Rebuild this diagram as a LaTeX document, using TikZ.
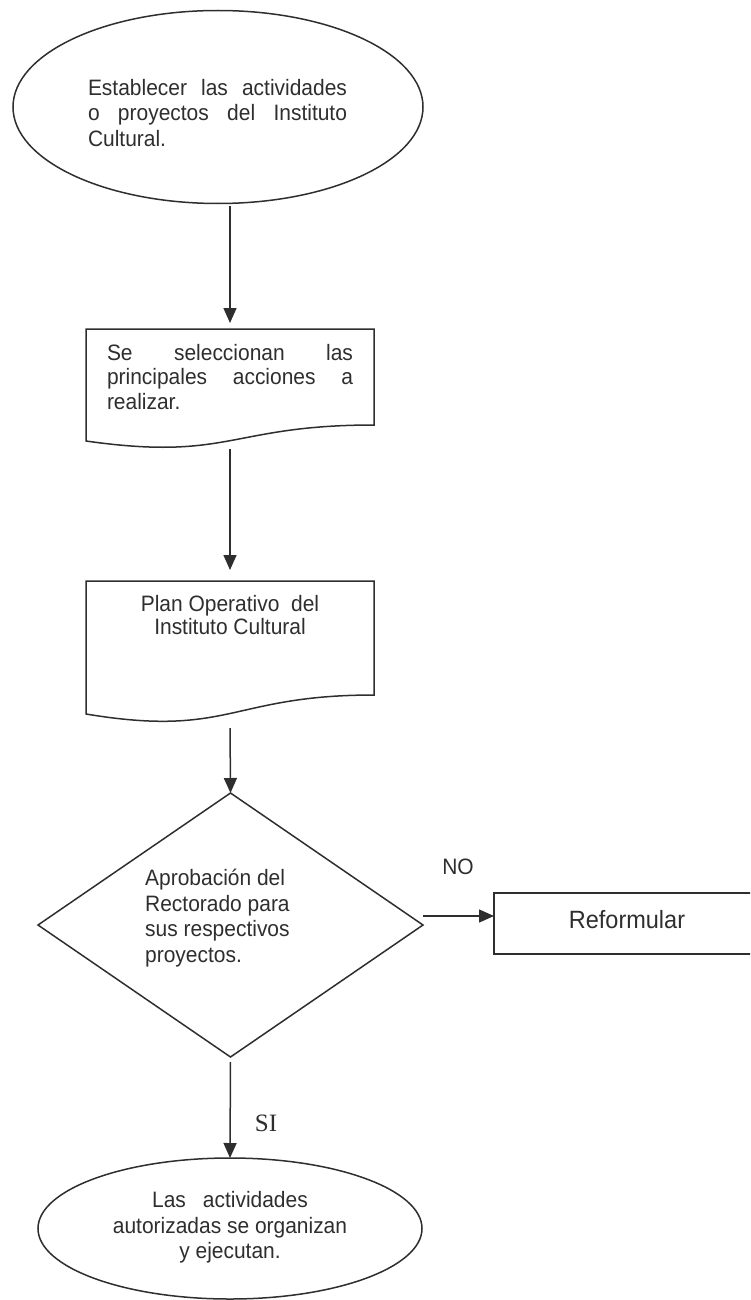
\documentclass[tikz,border=0pt]{standalone}
\usepackage{fontspec}
\setmainfont{Liberation Sans}[FakeStretch=0.94]
\newfontfamily\seriffont{Liberation Serif}
\usetikzlibrary{arrows.meta,shapes.geometric,calc}
\definecolor{ink}{HTML}{2E2E2E}
\tolerance=9999
\hbadness=10000

\begin{document}
\begin{tikzpicture}[x=1pt,y=-1pt,
  outline/.style={draw=ink, line width=1.5pt},
  arr/.style={draw=ink, line width=1.5pt, -{Triangle[length=15pt,width=13pt]}},
  txt/.style={text=ink, inner sep=0pt, font=\fontsize{22.3}{25.5}\selectfont},
  shapebox/.style={inner sep=0pt, outer sep=0pt}
]
\useasboundingbox (0,0) rectangle (750,1300);
\clip (0,0) rectangle (750,1300);

% start terminal
\node[ellipse, outline, shapebox, minimum width=410pt, minimum height=193pt] (start) at (218,107) {};
\node[txt, text width=259pt, align=justify] (starttext) at (217.5,113)
  {Establecer las actividades\linebreak o proyectos del Instituto\linebreak Cultural.};

% document: selection of actions
\node[shapebox, minimum width=288pt, minimum height=120pt] (sel) at (230,389) {};
\draw[outline] (sel.north west) -- (sel.north east) -- (374,425)
  .. controls (230,425) and (230,461.5) .. (86,441) -- cycle;
\node[txt, text width=246pt, align=justify, font=\fontsize{22.3}{24.5}\selectfont] (seltext) at (230,377)
  {Se seleccionan las\linebreak principales acciones a\linebreak realizar.};

% document: operating plan
\node[shapebox, minimum width=288pt, minimum height=142pt] (plan) at (230,652) {};
\draw[outline] (plan.north west) -- (plan.north east) -- (374,695)
  .. controls (230,695) and (230,738) .. (86,714) -- cycle;
\node[txt, align=center, font=\fontsize{22.3}{23.5}\selectfont] (plantext) at (230,615)
  {Plan Operativo\ \ del\\Instituto Cultural};

% decision
\node[diamond, outline, shapebox, aspect=1.46, minimum width=385pt, minimum height=264pt] (ok) at (230.5,925) {};
\node[txt, anchor=west, align=left] (oktext) at (145,918)
  {Aprobación del\\Rectorado para\\sus respectivos\\proyectos.};

% rework box
\node[outline, shapebox, minimum width=266pt, minimum height=61pt, text depth=9pt,
      txt, font=\fontsize{25}{28}\selectfont] (ref) at (627,923.5) {Reformular};

% end terminal
\node[ellipse, outline, shapebox, minimum width=384pt, minimum height=141pt] (finish) at (230,1228.5) {};
\node[txt, align=center] (finishtext) at (230,1227.5)
  {Las\hspace{17pt}actividades\\autorizadas se organizan\\y ejecutan.};

% connectors
\draw[arr, shorten <=2pt, shorten >=6pt] (start.south -| sel.north) -- (sel.north);
\draw[arr, shorten >=11pt] (sel.south) -- (plan.north);
\draw[arr, shorten <=5pt] (plan.south) -- (ok.north);
\draw[arr] ([yshift=9pt]ok.east) -- ([yshift=9pt]ok.east -| ref.west);
\draw[arr, shorten <=5pt] (ok.south) -- (finish.north);

% branch labels
\node[txt] (no) at (458,867) {NO};
\node[txt, font=\seriffont\fontsize{25}{28}\selectfont] (si) at (266,1123) {SI};
\end{tikzpicture}
\end{document}
